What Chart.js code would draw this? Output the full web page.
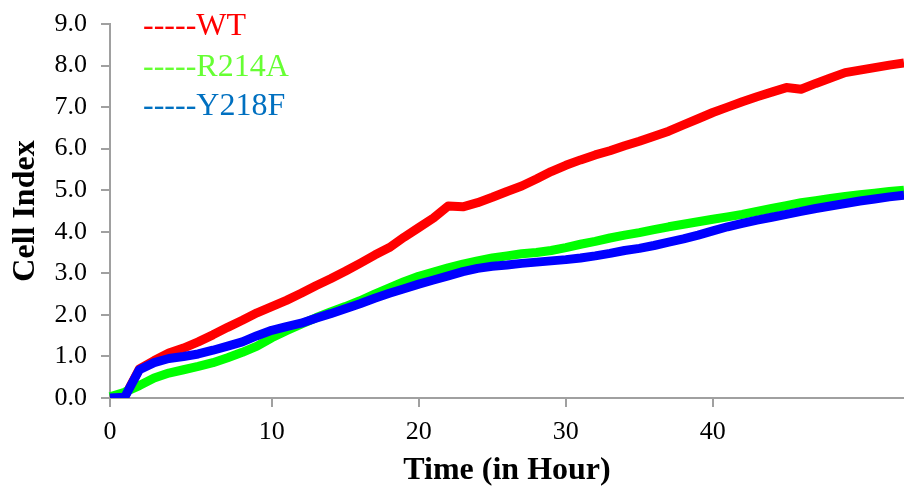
<!DOCTYPE html>
<html>
<head>
<meta charset="utf-8">
<script src="https://cdn.jsdelivr.net/npm/chart.js@4.4.1/dist/chart.umd.min.js"></script>
<style>
  html, body { margin: 0; padding: 0; background: #fff; }
  #wrap { width: 904px; height: 496px; }
</style>
</head>
<body>
<div id="wrap"><canvas id="myChart" width="904" height="496"></canvas></div>
<script>
// Time points (hours) - early sweeps are closer together
const hours = [0, 0.5, 1, 2, 3, 4, 5, 6, 7, 8, 9, 10,
  11, 12, 13, 14, 15, 16, 17, 18, 19, 20,
  21, 22, 23, 24, 25, 26, 27, 28, 29, 30,
  31, 32, 33, 34, 35, 36, 37, 38, 39, 40,
  41, 42, 43, 44, 45, 46, 47, 48, 49, 50,
  51, 52, 53];
const tickHours = [0, 10, 20, 30, 40];
const yTicks = [0, 1, 2, 3, 4, 5, 6, 7, 8, 9];

const seriesNames = ['WT', 'R214A', 'Y218F'];

// Cell index values
const wt = [0, 0.03, 0.7, 0.9, 1.08, 1.2, 1.35, 1.52, 1.7, 1.87, 2.05, 2.2,
  2.35, 2.52, 2.7, 2.87, 3.05, 3.24, 3.44, 3.62, 3.87, 4.1,
  4.33, 4.62, 4.6, 4.7, 4.83, 4.97, 5.1, 5.27, 5.45, 5.6,
  5.73, 5.85, 5.95, 6.07, 6.18, 6.3, 6.42, 6.57, 6.72, 6.87,
  7.0, 7.13, 7.25, 7.36, 7.47, 7.43, 7.57, 7.7, 7.83, 7.89,
  7.95, 8.01, 8.06];
const r214a = [0.03, 0.14, 0.3, 0.48, 0.6, 0.68, 0.76, 0.85, 0.97, 1.1, 1.25, 1.45,
  1.62, 1.78, 1.93, 2.07, 2.2, 2.34, 2.5, 2.65, 2.8, 2.93,
  3.03, 3.13, 3.22, 3.3, 3.37, 3.42, 3.47, 3.5, 3.55, 3.62,
  3.7, 3.77, 3.85, 3.92, 3.98, 4.05, 4.12, 4.18, 4.24, 4.3,
  4.36, 4.42, 4.49, 4.56, 4.63, 4.7, 4.75, 4.8, 4.85, 4.89,
  4.93, 4.97, 5.0];
const y218f = [0, 0.02, 0.68, 0.85, 0.95, 1.0, 1.06, 1.15, 1.25, 1.35, 1.5, 1.63,
  1.72, 1.8, 1.92, 2.03, 2.15, 2.27, 2.4, 2.52, 2.63, 2.74,
  2.84, 2.94, 3.04, 3.12, 3.17, 3.2, 3.24, 3.27, 3.3, 3.33,
  3.37, 3.42, 3.48, 3.55, 3.6, 3.67, 3.75, 3.83, 3.92, 4.02,
  4.12, 4.2, 4.28, 4.35, 4.42, 4.49, 4.56, 4.62, 4.68, 4.74,
  4.79, 4.84, 4.88];

const lineColors = ['#FF0000', '#00FF00', '#0000FF'];
const legendColors = ['#FF0000', '#66FF33', '#0070C0'];

const serif = "'Liberation Serif', 'Times New Roman', serif";
const axisGray = '#A0A0A0';

// Text legend in the top-left corner ("-----WT" etc.)
const textLegend = {
  id: 'textLegend',
  afterDraw(chart) {
    const ctx = chart.ctx;
    const baselines = [35, 76, 115];
    ctx.save();
    ctx.font = '32px ' + serif;
    ctx.textAlign = 'left';
    ctx.textBaseline = 'alphabetic';
    seriesNames.forEach((name, i) => {
      ctx.fillStyle = legendColors[i];
      ctx.fillText('-----' + name, 143, baselines[i]);
    });
    ctx.restore();
  }
};

const ctx = document.getElementById('myChart');

new Chart(ctx, {
  type: 'line',
  data: {
    labels: hours,
    datasets: [
      { label: seriesNames[0], data: wt, borderColor: lineColors[0], backgroundColor: lineColors[0], order: 3 },
      { label: seriesNames[1], data: r214a, borderColor: lineColors[1], backgroundColor: lineColors[1], order: 2 },
      { label: seriesNames[2], data: y218f, borderColor: lineColors[2], backgroundColor: lineColors[2], order: 1 }
    ]
  },
  options: {
    responsive: false,
    animation: false,
    devicePixelRatio: 1,
    layout: { padding: { top: 24, right: 0, left: 0, bottom: 0 } },
    elements: {
      line: { borderWidth: 9, tension: 0, borderCapStyle: 'butt', borderJoinStyle: 'round' },
      point: { radius: 0, hoverRadius: 0 }
    },
    plugins: {
      legend: { display: false },
      tooltip: { enabled: false }
    },
    scales: {
      x: {
        type: 'category',
        offset: false,
        afterBuildTicks(scale) {
          scale.ticks = scale.ticks.filter(t => tickHours.includes(hours[t.value]));
        },
        afterFit(scale) { scale.height = 98; },
        ticks: {
          autoSkip: false,
          maxRotation: 0,
          padding: 10,
          color: '#000',
          font: { family: serif, size: 26 }
        },
        grid: {
          display: true,
          drawOnChartArea: false,
          drawTicks: true,
          tickLength: 9,
          color: axisGray,
          lineWidth: 2
        },
        border: { display: true, color: axisGray, width: 2 },
        title: {
          display: true,
          text: 'Time (in Hour)',
          color: '#000',
          font: { family: serif, size: 32, weight: 'bold' },
          padding: { top: 0, bottom: 6 }
        }
      },
      y: {
        min: 0,
        max: 9,
        afterBuildTicks(scale) {
          scale.ticks = yTicks.map(v => ({ value: v }));
        },
        afterFit(scale) {
          scale.width = 110;
          scale.paddingTop = 0;
          scale.paddingBottom = 0;
        },
        ticks: {
          padding: 14,
          color: '#000',
          font: { family: serif, size: 26 },
          callback: v => Number(v).toFixed(1)
        },
        grid: {
          display: true,
          drawOnChartArea: false,
          drawTicks: true,
          tickLength: 9,
          color: axisGray,
          lineWidth: 2
        },
        border: { display: true, color: axisGray, width: 2 },
        title: {
          display: true,
          text: 'Cell Index',
          color: '#000',
          font: { family: serif, size: 32, weight: 'bold' },
          padding: { top: 7, bottom: 0 }
        }
      }
    }
  },
  plugins: [textLegend]
});
</script>
</body>
</html>
